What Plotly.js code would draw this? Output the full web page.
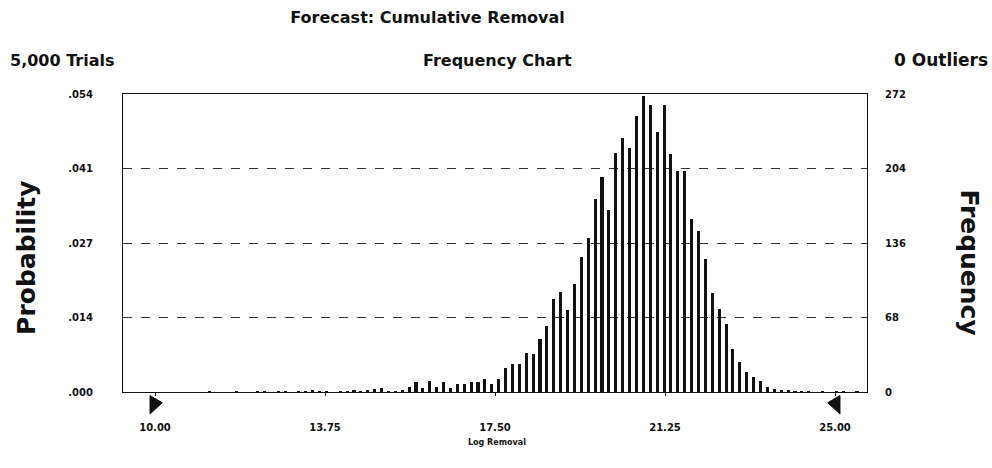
<!DOCTYPE html>
<html><head><meta charset="utf-8">
<script src="https://cdn.plot.ly/plotly-3.0.1.min.js"></script>
<style>html,body{margin:0;padding:0;background:#fff}#chart{width:992px;height:468px}</style>
</head><body><div id="chart"></div>
<script>
// Histogram of "Log Removal", 5,000 trials
const binStart = 10.893;   // centre of first bin (log removal)
const binWidth = 0.152;    // bin width (log removal)
const frequencies = [
  0, 0, 1, 0, 0, 0, 1, 0, 0, 1,
  1, 0, 1, 1, 0, 1, 1, 2, 1, 1,
  0, 1, 1, 2, 1, 2, 3, 4, 1, 1,
  2, 5, 9, 4, 10, 5, 9, 4, 7, 7,
  9, 9, 12, 7, 12, 22, 26, 26, 36, 35,
  48, 60, 85, 91, 75, 99, 123, 141, 176, 196,
  166, 218, 232, 223, 252, 270, 262, 237, 262, 217,
  202, 202, 158, 147, 121, 90, 76, 62, 39, 27,
  18, 14, 10, 5, 3, 2, 2, 1, 1, 1,
  0, 1, 0, 1, 1, 0, 1, 0, 1
];
const freqTicks = [0, 68, 136, 204, 272];
const probTickText = ['.000', '.014', '.027', '.041', '.054'];
const freqTickText = ['0', '68', '136', '204', '272'];
const xTicks = [10, 13.75, 17.5, 21.25, 25];
const xTickText = ['10.00', '13.75', '17.50', '21.25', '25.00'];
const grabbers = [10, 25];          // certainty range end-points
const grabberDirs = [1, -1];        // pointing right / left

const F = 'DejaVu Sans, Liberation Sans, sans-serif';
const ink = '#111';

const traces = [
  {
    type: 'bar', x0: binStart, dx: binWidth, y: frequencies,
    width: 0.068, marker: {color: ink, line: {width: 0}},
    yaxis: 'y2', hoverinfo: 'x+y'
  },
  {
    type: 'scatter', mode: 'none', x: [binStart], y: [0], yaxis: 'y', hoverinfo: 'skip'
  }
];

// triangular grabber markers below the axis
const shapes = grabbers.map((g, i) => {
  const d = grabberDirs[i];
  const back = g - d * 0.11, tip = g + d * 0.16;
  return {
    type: 'path', xref: 'x', yref: 'paper',
    path: `M ${back},-0.012 L ${tip},-0.036 L ${back},-0.074 Z`,
    fillcolor: ink, line: {color: ink, width: 1}, layer: 'above'
  };
});

const layout = {
  width: 992, height: 468,
  margin: {l: 123, r: 125, t: 94, b: 76, pad: 0},
  paper_bgcolor: '#fff', plot_bgcolor: '#fff',
  showlegend: false, bargap: 0,
  title: {text: '<b>Forecast: Cumulative Removal</b>', x: 0.431, xanchor: 'center',
          y: 0.962, yanchor: 'middle', yref: 'container',
          font: {family: F, size: 16, color: ink}},
  xaxis: {
    range: [9.294, 25.706], tickvals: xTicks, ticktext: xTickText,
    showgrid: false, zeroline: false, showline: true, linecolor: ink, linewidth: 1,
    mirror: true, ticks: 'outside', ticklen: 3, tickcolor: ink,
    ticklabelstandoff: 23,
    tickfont: {family: F, size: 10, color: ink, weight: 'bold'}
  },
  yaxis: {
    range: [0, 272], tickvals: freqTicks, ticktext: probTickText,
    showgrid: true, gridcolor: '#333', griddash: 'dash', gridwidth: 1,
    zeroline: false, showline: true, linecolor: ink, linewidth: 1, mirror: true,
    ticks: '', ticklabelstandoff: 27,
    tickfont: {family: F, size: 10, color: ink, weight: 'bold'}
  },
  yaxis2: {
    range: [0, 272], tickvals: freqTicks, ticktext: freqTickText,
    overlaying: 'y', side: 'right', showgrid: false, zeroline: false,
    showline: false, ticks: '', ticklabelstandoff: 17,
    tickfont: {family: F, size: 10, color: ink, weight: 'bold'}
  },
  shapes: shapes,
  annotations: [
    {text: '<b>5,000 Trials</b>', xref: 'paper', yref: 'paper', x: -0.1546, y: 1.114,
     xanchor: 'left', yanchor: 'middle', showarrow: false, font: {family: F, size: 16, color: ink}},
    {text: '<b>Frequency Chart</b>', xref: 'paper', yref: 'paper', x: 0.5027, y: 1.114,
     xanchor: 'center', yanchor: 'middle', showarrow: false, font: {family: F, size: 16, color: ink}},
    {text: '<b>0 Outliers</b>', xref: 'paper', yref: 'paper', x: 1.1653, y: 1.114,
     xanchor: 'right', yanchor: 'middle', showarrow: false, font: {family: F, size: 17, color: ink}},
    {text: '<b>Probability</b>', xref: 'paper', yref: 'paper', x: -0.129, y: 0.45,
     textangle: -90, xanchor: 'center', yanchor: 'middle', showarrow: false,
     font: {family: F, size: 25, color: ink}},
    {text: '<b>Frequency</b>', xref: 'paper', yref: 'paper', x: 1.138, y: 0.436,
     textangle: 90, xanchor: 'center', yanchor: 'middle', showarrow: false,
     font: {family: F, size: 25, color: ink}},
    {text: '<b>Log Removal</b>', xref: 'paper', yref: 'paper', x: 0.5027, y: -0.17,
     xanchor: 'center', yanchor: 'middle', showarrow: false,
     font: {family: F, size: 8, color: ink}}
  ]
};

Plotly.newPlot('chart', traces, layout, {displayModeBar: false, staticPlot: true});
</script></body></html>
